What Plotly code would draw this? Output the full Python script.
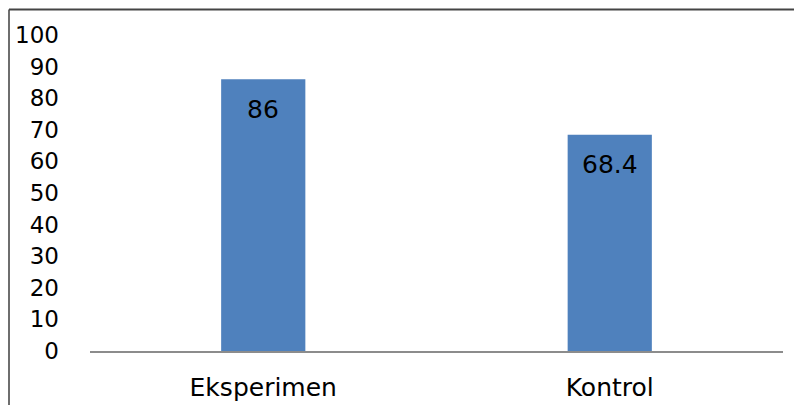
import plotly.graph_objects as go

categories = ["Eksperimen", "Kontrol"]
values = [86, 68.4]
value_labels = ["86", "68.4"]
y_ticks = [0, 10, 20, 30, 40, 50, 60, 70, 80, 90, 100]

FONT = "DejaVu Sans"

fig = go.Figure()
fig.add_trace(go.Bar(
    x=categories,
    y=values,
    width=0.243,
    marker=dict(color="#4F81BD", line=dict(width=0)),
    hoverinfo="skip",
))

# value labels sit a little below the top of each bar
for cat, val, lab in zip(categories, values, value_labels):
    fig.add_annotation(
        x=cat, y=val, text=lab, showarrow=False,
        yanchor="middle", yshift=-30,
        font=dict(family=FONT, size=25, color="#000000"),
    )

# outer frame (top and left edges of the chart area)
left_x = (9 - 90) / 693
top_y = (351 - 9.5) / 316
fig.add_shape(type="line", xref="paper", yref="paper",
              x0=left_x, x1=left_x, y0=-0.3, y1=top_y,
              line=dict(color="#6e6e6e", width=2))
fig.add_shape(type="line", xref="paper", yref="paper",
              x0=left_x, x1=1.1, y0=top_y, y1=top_y,
              line=dict(color="#444444", width=2))

fig.update_layout(
    width=794, height=405,
    margin=dict(l=90, r=11, t=35, b=54),
    paper_bgcolor="white",
    plot_bgcolor="white",
    showlegend=False,
    xaxis=dict(
        type="category",
        automargin=False,
        showline=True, linecolor="#8c8c8c", linewidth=2,
        showgrid=False, ticks="",
        tickfont=dict(family=FONT, size=25, color="#000000"),
        ticklabelstandoff=13,
        fixedrange=True,
    ),
    yaxis=dict(
        range=[0, 100],
        automargin=False,
        tickvals=y_ticks,
        ticktext=[str(v) for v in y_ticks],
        showgrid=False, showline=False, zeroline=False, ticks="",
        tickfont=dict(family=FONT, size=23, color="#000000"),
        ticklabelstandoff=30,
        fixedrange=True,
    ),
)

fig.write_html("out.html")
